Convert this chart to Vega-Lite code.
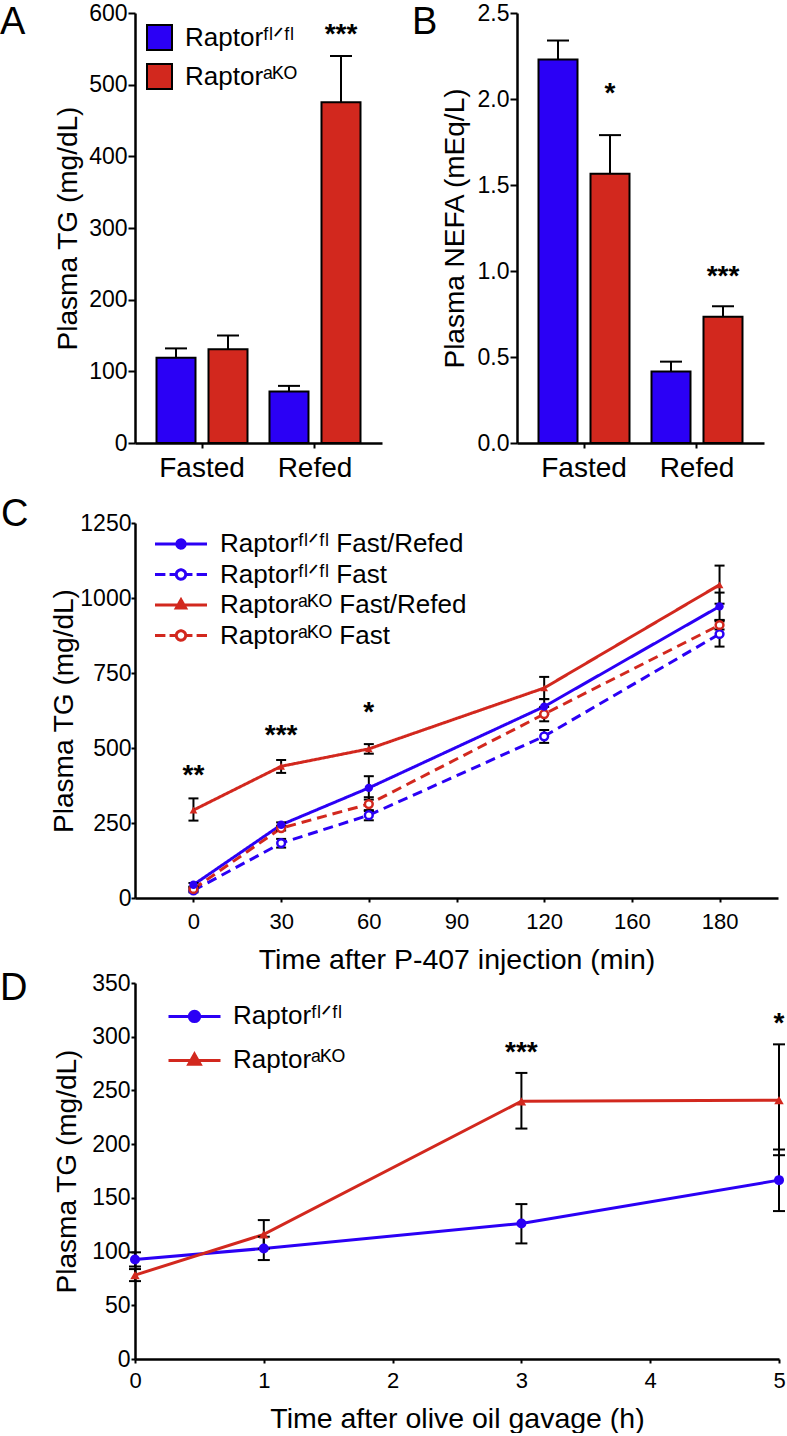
{
  "$schema": "https://vega.github.io/schema/vega-lite/v6.json",
  "padding": {"top": 2, "left": 0, "right": 0, "bottom": 0},
  "autosize": {"type": "pad"},
  "background": "white",
  "config": {
    "font": "Liberation Sans",
    "view": {"stroke": null},
    "axis": {
      "domainColor": "black", "domainWidth": 2.5, "tickColor": "black", "tickWidth": 2,
      "labelColor": "black", "titleColor": "black", "labelFont": "Liberation Sans", "titleFont": "Liberation Sans",
      "titleFontWeight": "normal", "grid": false, "labelFlush": false, "labelOverlap": false, "labelBound": false
    },
    "legend": {"labelFont": "Liberation Sans", "labelColor": "black", "labelLimit": 0},
    "title": {"font": "Liberation Sans", "fontWeight": "normal", "color": "black"}
  },
  "datasets": {
    "tg": [
      {"condition": "Fasted", "genotype": "fl", "mean": 119, "hi": 132},
      {"condition": "Fasted", "genotype": "ko", "mean": 130.7, "hi": 150},
      {"condition": "Refed", "genotype": "fl", "mean": 71.8, "hi": 79.7},
      {"condition": "Refed", "genotype": "ko", "mean": 475.4, "hi": 540}
    ],
    "tgStars": [
      {"condition": "Refed", "genotype": "ko", "y": 573, "label": "***"}
    ],
    "nefa": [
      {"condition": "Fasted", "genotype": "fl", "mean": 2.23, "hi": 2.34},
      {"condition": "Fasted", "genotype": "ko", "mean": 1.565, "hi": 1.79},
      {"condition": "Refed", "genotype": "fl", "mean": 0.415, "hi": 0.473},
      {"condition": "Refed", "genotype": "ko", "mean": 0.734, "hi": 0.795}
    ],
    "nefaStars": [
      {"condition": "Fasted", "genotype": "ko", "y": 2.047, "label": "*"},
      {"condition": "Refed", "genotype": "ko", "y": 0.984, "label": "***"}
    ],
    "p407": [
      {"series": "flR", "time": 0, "mean": 44, "lo": 38, "hi": 50},
      {"series": "flR", "time": 30, "mean": 244, "lo": 237, "hi": 252},
      {"series": "flR", "time": 60, "mean": 367, "lo": 328, "hi": 406},
      {"series": "flR", "time": 120, "mean": 638, "lo": 613, "hi": 663},
      {"series": "flR", "time": 180, "mean": 972, "lo": 927, "hi": 1018},
      {"series": "flF", "time": 0, "mean": 25, "lo": 19, "hi": 31},
      {"series": "flF", "time": 30, "mean": 183, "lo": 168, "hi": 197},
      {"series": "flF", "time": 60, "mean": 276, "lo": 259, "hi": 293},
      {"series": "flF", "time": 120, "mean": 539, "lo": 517, "hi": 560},
      {"series": "flF", "time": 180, "mean": 880, "lo": 838, "hi": 922},
      {"series": "koR", "time": 0, "mean": 293, "lo": 258, "hi": 332},
      {"series": "koR", "time": 30, "mean": 439, "lo": 417, "hi": 460},
      {"series": "koR", "time": 60, "mean": 497, "lo": 481, "hi": 513},
      {"series": "koR", "time": 120, "mean": 700, "lo": 663, "hi": 737},
      {"series": "koR", "time": 180, "mean": 1044, "lo": 981, "hi": 1108},
      {"series": "koF", "time": 0, "mean": 30, "lo": 24, "hi": 36},
      {"series": "koF", "time": 30, "mean": 233, "lo": 225, "hi": 241},
      {"series": "koF", "time": 60, "mean": 313, "lo": 290, "hi": 336},
      {"series": "koF", "time": 120, "mean": 613, "lo": 589, "hi": 637},
      {"series": "koF", "time": 180, "mean": 910, "lo": 895, "hi": 926}
    ],
    "p407Stars": [
      {"time": 0, "y": 417, "label": "**"},
      {"time": 30, "y": 550, "label": "***"},
      {"time": 60, "y": 627, "label": "*"}
    ],
    "gavage": [
      {"grp": "fl", "time": 0, "mean": 92.7, "lo": 86.1, "hi": 99.3},
      {"grp": "fl", "time": 1, "mean": 102.9, "lo": 92.1, "hi": 113.8},
      {"grp": "fl", "time": 3, "mean": 126.2, "lo": 107.6, "hi": 144.2},
      {"grp": "fl", "time": 5, "mean": 166.5, "lo": 137.7, "hi": 195},
      {"grp": "ko", "time": 0, "mean": 78.1, "lo": 72.5, "hi": 83.7},
      {"grp": "ko", "time": 1, "mean": 116, "lo": 102.7, "hi": 129.3},
      {"grp": "ko", "time": 3, "mean": 239.9, "lo": 214.5, "hi": 266.3},
      {"grp": "ko", "time": 5, "mean": 240.9, "lo": 189.7, "hi": 292.9}
    ],
    "gavageStars": [
      {"time": 3, "y": 288, "label": "***"},
      {"time": 5, "y": 315, "label": "*"}
    ]
  },
  "resolve": {"scale": {"color": "independent", "strokeDash": "independent"}, "legend": {"color": "independent"}},
  "spacing": 14,
  "vconcat": [
    {
      "hconcat": [
        {
          "width": 247, "height": 430,
          "title": {"text": "A", "orient": "top", "anchor": "start", "frame": "group", "align": "left", "baseline": "alphabetic", "fontSize": 38, "dx": -135, "offset": -70},
          "data": {"name": "tg"},
          "layer": [
            {
              "mark": {"type": "bar", "stroke": "black", "strokeWidth": 2},
              "encoding": {
                "x": {"field": "condition", "type": "nominal", "sort": ["Fasted", "Refed"], "scale": {"paddingInner": 0, "paddingOuter": 0.093},
                      "axis": {"title": null, "labelAngle": 0, "labelFontSize": 28, "tickSize": 5, "labelPadding": 6}},
                "xOffset": {"field": "genotype", "type": "nominal", "sort": ["fl", "ko"], "scale": {"paddingInner": 0.25, "paddingOuter": 0.2115}},
                "y": {"field": "mean", "type": "quantitative", "scale": {"domain": [0, 600], "nice": false},
                      "axis": {"title": "Plasma TG (mg/dL)", "values": [0, 100, 200, 300, 400, 500, 600], "format": "d", "labelFontSize": 23, "titleFontSize": 28, "tickSize": 7, "labelPadding": 1, "titlePadding": 6}},
                "color": {"field": "genotype", "type": "nominal", "scale": {"domain": ["fl", "ko"], "range": ["#2b00f5", "#d2281e"]},
                          "legend": {"orient": "none", "legendX": 11, "legendY": 11, "title": null, "padding": 0, "symbolType": "square", "symbolSize": 625,
                                     "symbolStrokeColor": "black", "symbolStrokeWidth": 2, "symbolOpacity": 1, "labelFontSize": 26, "labelOffset": 12, "rowPadding": 6,
                                     "labelExpr": "datum.value == 'fl' ? 'Raptorᶠˡᐟᶠˡ' : 'Raptorᵃᴷᴼ'"}}
              }
            },
            {
              "mark": {"type": "rule", "color": "black", "strokeWidth": 2},
              "encoding": {
                "x": {"field": "condition", "type": "nominal", "sort": ["Fasted", "Refed"]},
                "xOffset": {"field": "genotype", "type": "nominal", "sort": ["fl", "ko"]},
                "y": {"field": "mean", "type": "quantitative"},
                "y2": {"field": "hi"}
              }
            },
            {
              "mark": {"type": "tick", "orient": "horizontal", "size": 22, "thickness": 2, "color": "black", "opacity": 1},
              "encoding": {
                "x": {"field": "condition", "type": "nominal", "sort": ["Fasted", "Refed"]},
                "xOffset": {"field": "genotype", "type": "nominal", "sort": ["fl", "ko"]},
                "y": {"field": "hi", "type": "quantitative"}
              }
            },
            {
              "data": {"name": "tgStars"},
              "mark": {"type": "text", "fontSize": 28, "fontWeight": "bold", "baseline": "alphabetic", "dy": 11, "color": "black"},
              "encoding": {
                "x": {"field": "condition", "type": "nominal", "sort": ["Fasted", "Refed"]},
                "xOffset": {"field": "genotype", "type": "nominal", "sort": ["fl", "ko"]},
                "y": {"field": "y", "type": "quantitative"},
                "text": {"field": "label"}
              }
            }
          ]
        },
        {
          "width": 247, "height": 430,
          "title": {"text": "B", "orient": "top", "anchor": "start", "frame": "group", "align": "left", "baseline": "alphabetic", "fontSize": 38, "dx": -105, "offset": -70},
          "data": {"name": "nefa"},
          "layer": [
            {
              "mark": {"type": "bar", "stroke": "black", "strokeWidth": 2},
              "encoding": {
                "x": {"field": "condition", "type": "nominal", "sort": ["Fasted", "Refed"], "scale": {"paddingInner": 0, "paddingOuter": 0.093},
                      "axis": {"title": null, "labelAngle": 0, "labelFontSize": 28, "tickSize": 5, "labelPadding": 6}},
                "xOffset": {"field": "genotype", "type": "nominal", "sort": ["fl", "ko"], "scale": {"paddingInner": 0.25, "paddingOuter": 0.2115}},
                "y": {"field": "mean", "type": "quantitative", "scale": {"domain": [0, 2.5], "nice": false},
                      "axis": {"title": "Plasma NEFA (mEq/L)", "values": [0, 0.5, 1, 1.5, 2, 2.5], "format": ".1f", "labelFontSize": 23, "titleFontSize": 28, "tickSize": 7, "labelPadding": 1, "titlePadding": 8}},
                "color": {"field": "genotype", "type": "nominal", "scale": {"domain": ["fl", "ko"], "range": ["#2b00f5", "#d2281e"]}, "legend": null}
              }
            },
            {
              "mark": {"type": "rule", "color": "black", "strokeWidth": 2},
              "encoding": {
                "x": {"field": "condition", "type": "nominal", "sort": ["Fasted", "Refed"]},
                "xOffset": {"field": "genotype", "type": "nominal", "sort": ["fl", "ko"]},
                "y": {"field": "mean", "type": "quantitative"},
                "y2": {"field": "hi"}
              }
            },
            {
              "mark": {"type": "tick", "orient": "horizontal", "size": 22, "thickness": 2, "color": "black", "opacity": 1},
              "encoding": {
                "x": {"field": "condition", "type": "nominal", "sort": ["Fasted", "Refed"]},
                "xOffset": {"field": "genotype", "type": "nominal", "sort": ["fl", "ko"]},
                "y": {"field": "hi", "type": "quantitative"}
              }
            },
            {
              "data": {"name": "nefaStars"},
              "mark": {"type": "text", "fontSize": 28, "fontWeight": "bold", "baseline": "alphabetic", "dy": 11, "color": "black"},
              "encoding": {
                "x": {"field": "condition", "type": "nominal", "sort": ["Fasted", "Refed"]},
                "xOffset": {"field": "genotype", "type": "nominal", "sort": ["fl", "ko"]},
                "y": {"field": "y", "type": "quantitative"},
                "text": {"field": "label"}
              }
            }
          ]
        }
      ],
      "spacing": 30,
      "resolve": {"scale": {"color": "independent", "y": "independent", "x": "independent"}, "legend": {"color": "independent"}}
    },
    {
      "vconcat": [
        {
          "width": 643, "height": 375,
          "title": {"text": "C", "orient": "top", "anchor": "start", "frame": "group", "align": "left", "baseline": "alphabetic", "fontSize": 38, "dx": -134, "offset": -52},
          "data": {"name": "p407"},
          "layer": [
            {
              "mark": {"type": "line", "strokeWidth": 3},
              "encoding": {
                "x": {"field": "time", "type": "quantitative", "scale": {"domain": [-20, 200], "nice": false},
                      "axis": {"title": "Time after P-407 injection (min)", "values": [0, 30, 60, 90, 120, 150, 180], "labelExpr": "datum.value == 150 ? '160' : datum.label", "format": "d",
                               "labelFontSize": 22, "titleFontSize": 28.5, "tickSize": 4, "labelPadding": 9, "titlePadding": 13}},
                "y": {"field": "mean", "type": "quantitative", "scale": {"domain": [0, 1250], "nice": false},
                      "axis": {"title": "Plasma TG (mg/dL)", "values": [0, 250, 500, 750, 1000, 1250], "format": "d", "labelFontSize": 23, "titleFontSize": 28, "tickSize": 4, "labelPadding": 0, "titlePadding": 1}},
                "color": {"field": "series", "type": "nominal", "scale": {"domain": ["flR", "flF", "koR", "koF"], "range": ["#2b00f5", "#2b00f5", "#d2281e", "#d2281e"]},
                          "legend": {"orient": "none", "legendX": 18.5, "legendY": 11, "title": null, "padding": 0, "symbolSize": 2704, "symbolStrokeWidth": 3,
                                     "clipHeight": 20, "rowPadding": 4.5, "labelOffset": 11.5, "labelFontSize": 26,
                                     "labelExpr": "datum.value == 'flR' ? 'Raptorᶠˡᐟᶠˡ Fast/Refed' : datum.value == 'flF' ? 'Raptorᶠˡᐟᶠˡ Fast' : datum.value == 'koR' ? 'Raptorᵃᴷᴼ Fast/Refed' : 'Raptorᵃᴷᴼ Fast'",
                                     "encode": {"symbols": {"update": {
                                       "shape": {"signal": "datum.value === 'flR' ? 'M-1,0H1M-0.16,0A0.16,0.16,0,1,0,0.16,0A0.16,0.16,0,1,0,-0.16,0Z' : datum.value === 'koR' ? 'M-1,0H1M0,-0.2L0.18,0.12L-0.18,0.12Z' : 'M-1,0H-0.6M-0.44,0H-0.18M0.18,0H0.44M0.6,0H1M-0.18,0A0.18,0.18,0,1,0,0.18,0A0.18,0.18,0,1,0,-0.18,0Z'"},
                                       "fill": {"signal": "datum.value === 'flR' ? '#2b00f5' : datum.value === 'koR' ? '#d2281e' : 'white'"},
                                       "fillOpacity": {"value": 1},
                                       "opacity": {"value": 1},
                                       "strokeDash": {"value": [1, 0]}
                                     }}}}},
                "strokeDash": {"field": "series", "type": "nominal", "scale": {"domain": ["flR", "flF", "koR", "koF"], "range": [[1, 0], [10, 6], [1, 0], [10, 6]]}, "legend": null}
              }
            },
            {
              "mark": {"type": "rule", "color": "black", "strokeWidth": 2},
              "encoding": {
                "x": {"field": "time", "type": "quantitative"},
                "y": {"field": "lo", "type": "quantitative"},
                "y2": {"field": "hi"}
              }
            },
            {
              "mark": {"type": "tick", "orient": "horizontal", "size": 10, "thickness": 2, "color": "black", "opacity": 1},
              "encoding": {
                "x": {"field": "time", "type": "quantitative"},
                "y": {"field": "hi", "type": "quantitative"}
              }
            },
            {
              "mark": {"type": "tick", "orient": "horizontal", "size": 10, "thickness": 2, "color": "black", "opacity": 1},
              "encoding": {
                "x": {"field": "time", "type": "quantitative"},
                "y": {"field": "lo", "type": "quantitative"}
              }
            },
            {
              "transform": [{"filter": "datum.series == 'flF'"}],
              "mark": {"type": "point", "shape": "circle", "filled": true, "fill": "white", "stroke": "#2b00f5", "strokeWidth": 2.5, "size": 60, "opacity": 1},
              "encoding": {"x": {"field": "time", "type": "quantitative"}, "y": {"field": "mean", "type": "quantitative"}}
            },
            {
              "transform": [{"filter": "datum.series == 'koF'"}],
              "mark": {"type": "point", "shape": "circle", "filled": true, "fill": "white", "stroke": "#d2281e", "strokeWidth": 2.5, "size": 60, "opacity": 1},
              "encoding": {"x": {"field": "time", "type": "quantitative"}, "y": {"field": "mean", "type": "quantitative"}}
            },
            {
              "transform": [{"filter": "datum.series == 'flR'"}],
              "mark": {"type": "point", "shape": "circle", "filled": true, "color": "#2b00f5", "size": 70, "opacity": 1},
              "encoding": {"x": {"field": "time", "type": "quantitative"}, "y": {"field": "mean", "type": "quantitative"}}
            },
            {
              "transform": [{"filter": "datum.series == 'koR'"}],
              "mark": {"type": "point", "shape": "triangle-up", "filled": true, "color": "#d2281e", "size": 60, "opacity": 1},
              "encoding": {"x": {"field": "time", "type": "quantitative"}, "y": {"field": "mean", "type": "quantitative"}}
            },
            {
              "data": {"name": "p407Stars"},
              "mark": {"type": "text", "fontSize": 28, "fontWeight": "bold", "baseline": "alphabetic", "dy": 11, "color": "black"},
              "encoding": {"x": {"field": "time", "type": "quantitative"}, "y": {"field": "y", "type": "quantitative"}, "text": {"field": "label"}}
            }
          ]
        },
        {
          "width": 644, "height": 376,
          "title": {"text": "D", "orient": "top", "anchor": "start", "frame": "group", "align": "left", "baseline": "alphabetic", "fontSize": 38, "dx": -135, "offset": -66},
          "data": {"name": "gavage"},
          "layer": [
            {
              "mark": {"type": "line", "strokeWidth": 3},
              "encoding": {
                "x": {"field": "time", "type": "quantitative", "scale": {"domain": [0, 5], "nice": false},
                      "axis": {"title": "Time after olive oil gavage (h)", "values": [0, 1, 2, 3, 4, 5], "format": "d", "labelFontSize": 22, "titleFontSize": 28.5, "tickSize": 4, "labelPadding": 7, "titlePadding": 13}},
                "y": {"field": "mean", "type": "quantitative", "scale": {"domain": [0, 350], "nice": false},
                      "axis": {"title": "Plasma TG (mg/dL)", "values": [0, 50, 100, 150, 200, 250, 300, 350], "format": "d", "labelFontSize": 23, "titleFontSize": 28, "tickSize": 4, "labelPadding": 1, "titlePadding": 10}},
                "color": {"field": "grp", "type": "nominal", "scale": {"domain": ["fl", "ko"], "range": ["#2b00f5", "#d2281e"]},
                          "legend": {"orient": "none", "legendX": 32, "legendY": 23.4, "title": null, "padding": 0, "symbolSize": 2704, "symbolStrokeWidth": 3,
                                     "clipHeight": 20, "rowPadding": 18, "labelOffset": 11, "labelFontSize": 26,
                                     "labelExpr": "datum.value == 'fl' ? 'Raptorᶠˡᐟᶠˡ' : 'Raptorᵃᴷᴼ'",
                                     "encode": {"symbols": {"update": {
                                       "shape": {"signal": "datum.value === 'fl' ? 'M-1,0H1M-0.2,0A0.2,0.2,0,1,0,0.2,0A0.2,0.2,0,1,0,-0.2,0Z' : 'M-1,0H1M0,-0.24L0.22,0.15L-0.22,0.15Z'"},
                                       "fill": {"signal": "datum.value === 'fl' ? '#2b00f5' : '#d2281e'"},
                                       "fillOpacity": {"value": 1},
                                       "opacity": {"value": 1}
                                     }}}}}
              }
            },
            {
              "mark": {"type": "rule", "color": "black", "strokeWidth": 2},
              "encoding": {
                "x": {"field": "time", "type": "quantitative"},
                "y": {"field": "lo", "type": "quantitative"},
                "y2": {"field": "hi"}
              }
            },
            {
              "mark": {"type": "tick", "orient": "horizontal", "size": 12, "thickness": 2, "color": "black", "opacity": 1},
              "encoding": {"x": {"field": "time", "type": "quantitative"}, "y": {"field": "hi", "type": "quantitative"}}
            },
            {
              "mark": {"type": "tick", "orient": "horizontal", "size": 12, "thickness": 2, "color": "black", "opacity": 1},
              "encoding": {"x": {"field": "time", "type": "quantitative"}, "y": {"field": "lo", "type": "quantitative"}}
            },
            {
              "transform": [{"filter": "datum.grp == 'fl'"}],
              "mark": {"type": "point", "shape": "circle", "filled": true, "color": "#2b00f5", "size": 100, "opacity": 1},
              "encoding": {"x": {"field": "time", "type": "quantitative"}, "y": {"field": "mean", "type": "quantitative"}}
            },
            {
              "transform": [{"filter": "datum.grp == 'ko'"}],
              "mark": {"type": "point", "shape": "triangle-up", "filled": true, "color": "#d2281e", "size": 90, "opacity": 1},
              "encoding": {"x": {"field": "time", "type": "quantitative"}, "y": {"field": "mean", "type": "quantitative"}}
            },
            {
              "data": {"name": "gavageStars"},
              "mark": {"type": "text", "fontSize": 28, "fontWeight": "bold", "baseline": "alphabetic", "dy": 11, "color": "black"},
              "encoding": {"x": {"field": "time", "type": "quantitative"}, "y": {"field": "y", "type": "quantitative"}, "text": {"field": "label"}}
            }
          ]
        }
      ],
      "spacing": -4,
      "resolve": {"scale": {"color": "independent", "x": "independent", "y": "independent"}, "legend": {"color": "independent"}}
    }
  ]
}
